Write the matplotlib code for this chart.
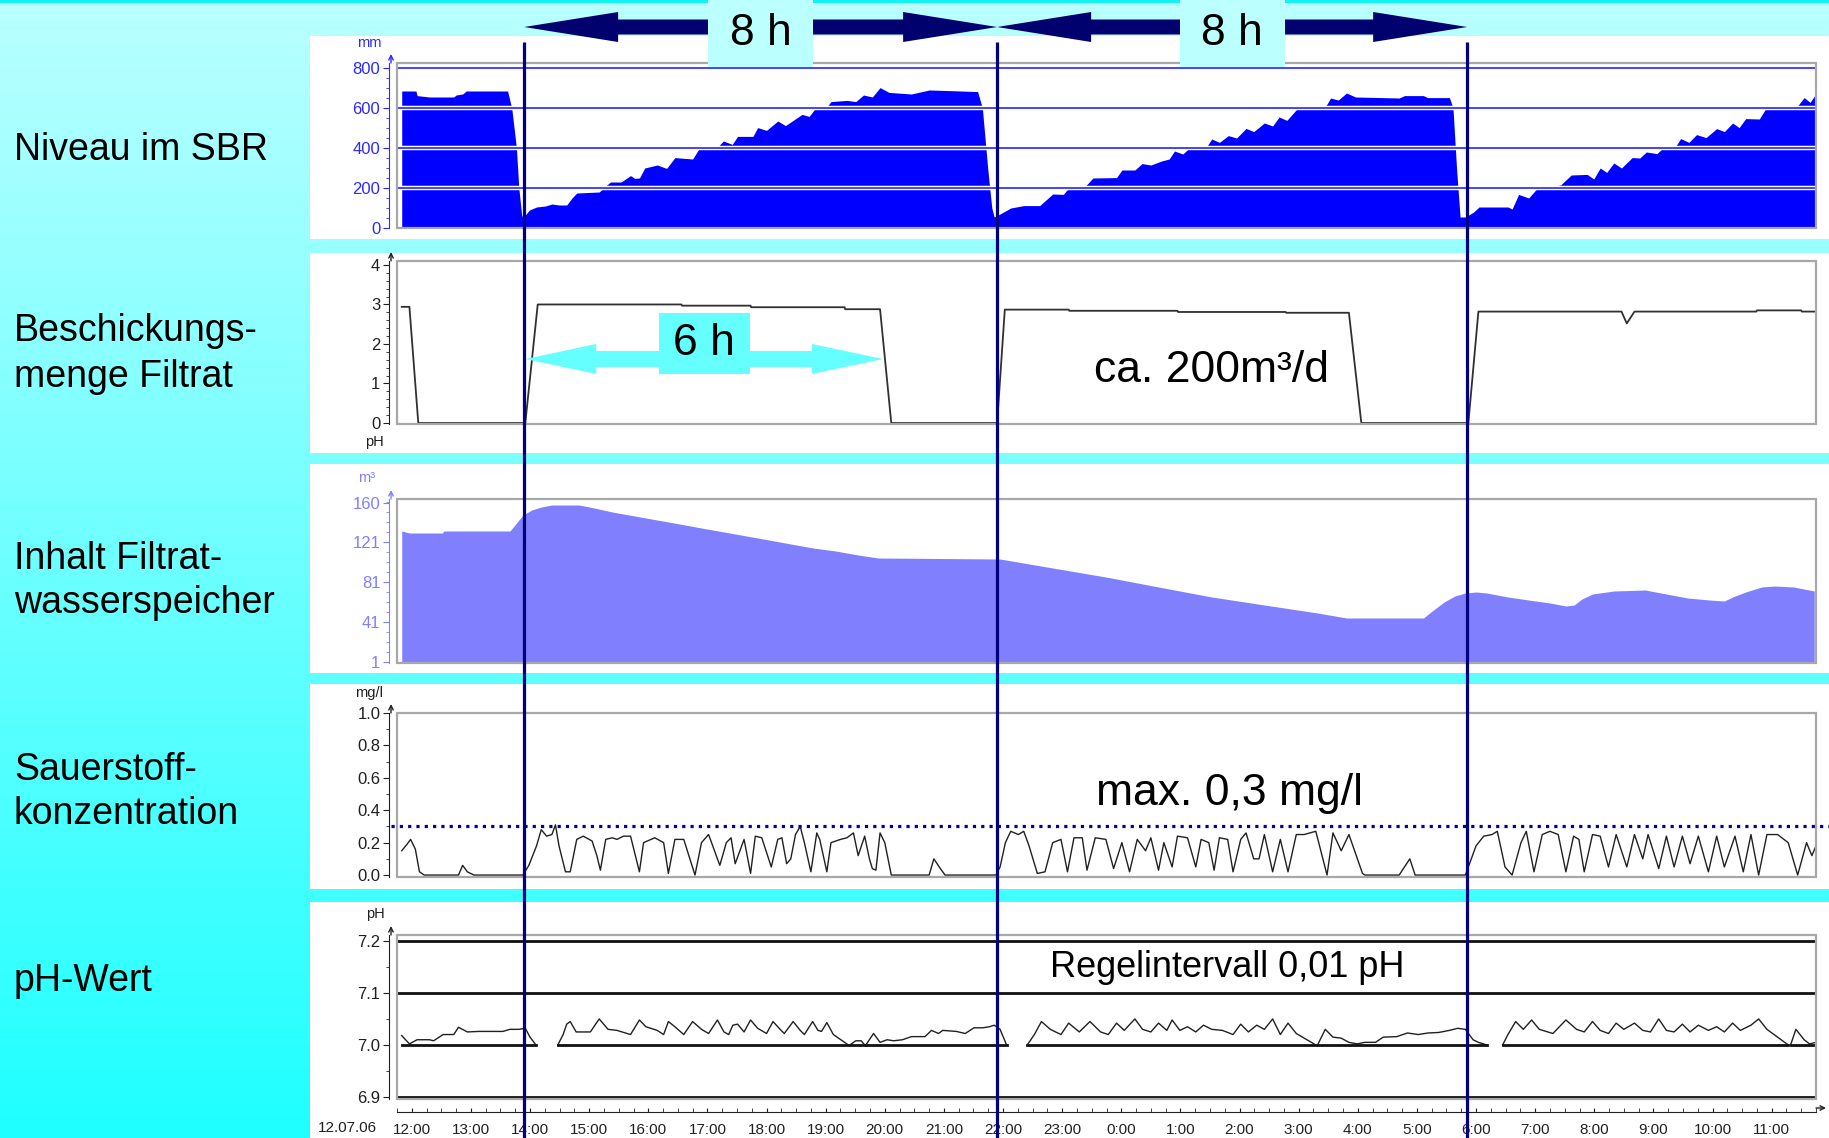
import numpy as np
import matplotlib
matplotlib.use('Agg')
import matplotlib.pyplot as plt
import matplotlib.transforms as mtransforms
import matplotlib.patheffects as pe
from matplotlib.patches import Rectangle
from matplotlib.ticker import AutoMinorLocator, FormatStrFormatter, MultipleLocator

plt.rcParams['font.family'] = ['Liberation Sans', 'DejaVu Sans']

# ---------------------------------------------------------------- data
# time in hours since 12.07.06 00:00
t_start, t_end = 11.75, 35.75
hour_ticks = list(range(12, 36))
hour_labels = ['%d:00' % (h % 24) for h in hour_ticks]
date_label = '12.07.06'

# Niveau im SBR (mm)
level_t = [11.83, 12.07, 12.09, 12.30, 12.71, 12.75, 12.86, 12.92, 13.62, 13.69,
           13.77, 13.81, 13.86, 13.92, 13.99, 14.11, 14.26, 14.37, 14.49, 14.62,
           14.71, 14.79, 15.17, 15.26, 15.36, 15.54, 15.70, 15.77, 15.85, 15.94,
           16.15, 16.31, 16.45, 16.75, 16.87, 17.13, 17.27, 17.42, 17.51, 17.77,
           17.85, 18.00, 18.19, 18.32, 18.60, 18.72, 18.83, 19.00, 19.09, 19.36,
           19.51, 19.64, 19.79, 19.92, 20.07, 20.45, 20.75, 20.98, 21.28, 21.57,
           21.65, 21.74, 21.81, 21.85,
           21.95, 22.13, 22.35, 22.62, 22.84, 23.02, 23.11, 23.38, 23.52, 23.92,
           24.01, 24.23, 24.35, 24.50, 24.68, 24.81, 24.90, 25.04, 25.17, 25.44,
           25.53, 25.66, 25.81, 25.95, 26.11, 26.24, 26.42, 26.56, 26.67, 26.80,
           26.98, 27.32, 27.45, 27.54, 27.67, 27.81, 27.96, 28.70, 28.79, 29.11,
           29.18, 29.55, 29.61, 29.67, 29.73,
           29.82, 29.96, 30.05, 30.54, 30.61, 30.72, 30.89, 31.03, 31.43, 31.61,
           31.88, 31.99, 32.10, 32.21, 32.33, 32.46, 32.64, 32.77, 32.88, 33.06,
           33.19, 33.37, 33.46, 33.60, 33.73, 33.89, 34.07, 34.20, 34.34, 34.45,
           34.56, 34.79, 34.89, 35.14, 35.28, 35.41, 35.55, 35.65, 35.75]
level_v = [685, 685, 662, 655, 655, 665, 670, 685, 685, 600,
           400, 200, 60, 65, 90, 105, 110, 120, 115, 115,
           150, 175, 180, 205, 230, 230, 262, 248, 250, 300,
           315, 298, 352, 345, 402, 392, 435, 418, 458, 458,
           502, 488, 535, 512, 568, 558, 600, 598, 632, 638,
           632, 665, 655, 702, 678, 670, 690, 688, 685, 682,
           600, 300, 100, 55,
           70, 100, 112, 112, 170, 168, 200, 205, 250, 252,
           290, 290, 322, 315, 335, 345, 385, 370, 405, 405,
           445, 428, 462, 450, 498, 482, 525, 510, 555, 538,
           598, 598, 605, 650, 640, 675, 655, 650, 662, 662,
           652, 652, 600, 300, 55,
           55, 80, 105, 105, 95, 168, 150, 197, 215, 265,
           268, 245, 300, 278, 325, 300, 352, 350, 380, 372,
           408, 405, 447, 428, 467, 452, 497, 482, 525, 502,
           547, 545, 592, 600, 612, 600, 652, 628, 672]
level_ticks = [0, 200, 400, 600, 800]

# Beschickungsmenge Filtrat
feed_t = [11.83, 11.96, 12.11, 13.92, 14.13, 16.56, 16.57, 17.73, 17.74, 19.32,
          19.33, 19.92, 20.11, 21.90, 22.03, 23.11, 23.12, 24.95, 24.96, 26.78,
          26.79, 27.85, 28.06, 29.87, 30.04, 32.46, 32.55, 32.68, 34.74, 34.75,
          35.50, 35.51, 35.75]
feed_v = [2.94, 2.94, 0, 0, 3.0, 3.0, 2.97, 2.97, 2.93, 2.93,
          2.88, 2.88, 0, 0, 2.87, 2.87, 2.84, 2.84, 2.81, 2.81,
          2.79, 2.79, 0, 0, 2.82, 2.82, 2.52, 2.82, 2.82, 2.85,
          2.85, 2.82, 2.82]
feed_ticks = [0, 1, 2, 3, 4]

# Inhalt Filtratwasserspeicher (m3)
tank_t = [11.83, 11.96, 12.52, 12.54, 13.66, 13.73, 13.88, 14.03, 14.19, 14.37,
          14.83, 15.09, 15.39, 15.77, 16.15, 16.53, 16.90, 17.28, 17.66, 18.04,
          18.41, 18.79, 19.17, 19.55, 19.89, 21.95, 22.84, 23.74, 24.63, 25.53,
          26.42, 27.32, 27.81, 29.11, 29.28, 29.46, 29.64, 29.82, 30.00, 30.18,
          30.54, 30.89, 31.25, 31.52, 31.66, 31.79, 31.97, 32.33, 32.86, 33.22,
          33.58, 33.94, 34.20, 34.34, 34.56, 34.83, 35.05, 35.37, 35.72]
tank_v = [132, 130, 130, 132, 132, 137, 148, 153, 156, 158,
          158, 155, 151, 147, 143, 139, 135, 131, 127, 123,
          119, 115, 112, 108, 105, 104, 95, 86, 76, 66,
          58, 50, 45, 45, 53, 61, 67, 70, 71, 70,
          66, 63, 60, 57, 58, 64, 69, 72, 73, 69,
          65, 63, 62, 66, 71, 76, 77, 76, 72]
tank_ticks = [1, 41, 81, 121, 160]

# Sauerstoffkonzentration (mg/l)
oxy_t = [11.83, 11.92, 11.98, 12.06, 12.13, 12.21, 12.79, 12.86, 12.94, 13.05,
         13.88, 13.98, 14.11, 14.19, 14.28, 14.37, 14.43, 14.49, 14.60, 14.68,
         14.79, 14.90, 15.05, 15.13, 15.19, 15.28, 15.39, 15.47, 15.58, 15.70,
         15.85, 15.92, 16.11, 16.26, 16.34, 16.45, 16.60, 16.79, 16.90, 17.02,
         17.17, 17.21, 17.32, 17.40, 17.47, 17.62, 17.73, 17.81, 17.92, 18.08,
         18.19, 18.26, 18.34, 18.41, 18.49, 18.57, 18.64, 18.75, 18.85, 18.90,
         19.02, 19.09, 19.25, 19.36, 19.47, 19.55, 19.66, 19.74, 19.79, 19.85,
         19.92, 20.00, 20.11, 20.75, 20.83, 20.94, 21.02, 21.88, 21.95, 22.04,
         22.13, 22.26, 22.35, 22.44, 22.58, 22.71, 22.84, 22.98, 23.09, 23.20,
         23.34, 23.42, 23.56, 23.74, 23.87, 24.01, 24.14, 24.27, 24.41, 24.50,
         24.63, 24.72, 24.86, 24.95, 25.12, 25.26, 25.35, 25.48, 25.57, 25.66,
         25.80, 25.89, 26.02, 26.11, 26.24, 26.33, 26.42, 26.56, 26.69, 26.82,
         26.96, 27.09, 27.29, 27.41, 27.48, 27.58, 27.72, 27.85, 28.08, 28.12,
         28.70, 28.88, 28.97, 29.82, 30.00, 30.13, 30.27, 30.36, 30.49, 30.61,
         30.76, 30.85, 30.98, 31.12, 31.25, 31.39, 31.52, 31.65, 31.74, 31.83,
         31.97, 32.10, 32.24, 32.37, 32.55, 32.68, 32.82, 32.91, 33.09, 33.22,
         33.35, 33.49, 33.62, 33.76, 33.93, 34.07, 34.20, 34.38, 34.52, 34.65,
         34.78, 34.92, 35.10, 35.28, 35.44, 35.59, 35.68, 35.75]
oxy_v = [0.15, 0.19, 0.22, 0.16, 0.02, 0.0, 0.0, 0.06, 0.02, 0.0,
         0.0, 0.06, 0.18, 0.28, 0.24, 0.25, 0.31, 0.18, 0.02, 0.02,
         0.22, 0.24, 0.21, 0.12, 0.03, 0.22, 0.23, 0.22, 0.24, 0.24,
         0.02, 0.20, 0.23, 0.20, 0.01, 0.22, 0.22, 0.0, 0.20, 0.25,
         0.10, 0.06, 0.20, 0.23, 0.07, 0.22, 0.01, 0.24, 0.23, 0.05,
         0.22, 0.23, 0.07, 0.10, 0.25, 0.30, 0.20, 0.02, 0.26, 0.22,
         0.02, 0.20, 0.22, 0.23, 0.26, 0.12, 0.24, 0.10, 0.04, 0.03,
         0.26, 0.20, 0.0, 0.0, 0.10, 0.04, 0.0, 0.0, 0.05, 0.20,
         0.27, 0.25, 0.27, 0.18, 0.01, 0.02, 0.20, 0.22, 0.02, 0.23,
         0.23, 0.03, 0.23, 0.22, 0.04, 0.20, 0.02, 0.22, 0.15, 0.23,
         0.03, 0.20, 0.05, 0.24, 0.23, 0.05, 0.22, 0.20, 0.03, 0.23,
         0.22, 0.02, 0.22, 0.26, 0.10, 0.10, 0.25, 0.02, 0.22, 0.02,
         0.25, 0.25, 0.27, 0.10, 0.0, 0.26, 0.15, 0.25, 0.01, 0.0,
         0.0, 0.10, 0.0, 0.0, 0.18, 0.24, 0.25, 0.27, 0.05, 0.0,
         0.20, 0.27, 0.02, 0.25, 0.27, 0.25, 0.02, 0.24, 0.22, 0.02,
         0.25, 0.24, 0.05, 0.25, 0.05, 0.25, 0.10, 0.25, 0.04, 0.24,
         0.05, 0.24, 0.07, 0.24, 0.02, 0.24, 0.05, 0.24, 0.02, 0.25,
         0.0, 0.25, 0.25, 0.20, 0.0, 0.20, 0.12, 0.18]
oxy_ticks = [0.0, 0.2, 0.4, 0.6, 0.8, 1.0]
oxy_limit = 0.3

# pH-Wert, recorded in separate pieces
ph_segments = [
    ([11.83, 11.96, 12.09, 12.30, 12.37, 12.53, 12.71, 12.79, 12.94, 13.13,
      13.54, 13.66, 13.81, 13.92, 14.00, 14.10],
     [7.018, 7.002, 7.01, 7.01, 7.008, 7.02, 7.02, 7.034, 7.025, 7.026,
      7.026, 7.03, 7.03, 7.032, 7.015, 7.0]),
    ([14.47, 14.56, 14.62, 14.68, 14.78, 15.02, 15.17, 15.32, 15.47, 15.70,
      15.85, 15.96, 16.15, 16.26, 16.34, 16.45, 16.60, 16.75, 16.90, 17.02,
      17.17, 17.28, 17.36, 17.43, 17.51, 17.62, 17.73, 17.85, 18.00, 18.11,
      18.23, 18.30, 18.45, 18.57, 18.64, 18.78, 18.87, 18.93, 19.02, 19.13,
      19.32, 19.38],
     [7.0, 7.02, 7.04, 7.045, 7.025, 7.025, 7.05, 7.03, 7.028, 7.02,
      7.048, 7.035, 7.028, 7.02, 7.045, 7.035, 7.02, 7.045, 7.03, 7.022,
      7.048, 7.025, 7.02, 7.038, 7.04, 7.025, 7.048, 7.032, 7.022, 7.045,
      7.03, 7.022, 7.045, 7.028, 7.02, 7.045, 7.028, 7.026, 7.043, 7.02,
      7.005, 7.0]),
    ([19.41, 19.51, 19.60, 19.66],
     [7.0, 7.008, 7.008, 7.0]),
    ([19.68, 19.81, 19.92, 20.04, 20.15, 20.30, 20.45, 20.68, 20.79, 20.91,
      20.98, 21.21, 21.36, 21.51, 21.66, 21.77, 21.85, 21.95, 22.06],
     [7.0, 7.022, 7.005, 7.01, 7.008, 7.01, 7.016, 7.016, 7.028, 7.022,
      7.028, 7.026, 7.022, 7.033, 7.033, 7.035, 7.038, 7.03, 7.0]),
    ([22.41, 22.53, 22.65, 22.80, 22.98, 23.11, 23.29, 23.47, 23.65, 23.78,
      23.92, 24.05, 24.23, 24.36, 24.50, 24.63, 24.77, 24.86, 24.99, 25.12,
      25.26, 25.39, 25.53, 25.71, 25.89, 26.02, 26.15, 26.29, 26.42, 26.56,
      26.69, 26.82, 26.96, 27.14, 27.29],
     [7.0, 7.02, 7.045, 7.03, 7.02, 7.042, 7.025, 7.045, 7.025, 7.02,
      7.042, 7.028, 7.05, 7.03, 7.025, 7.042, 7.028, 7.048, 7.028, 7.035,
      7.025, 7.038, 7.03, 7.028, 7.02, 7.04, 7.025, 7.038, 7.03, 7.05,
      7.02, 7.042, 7.022, 7.01, 7.0]),
    ([27.32, 27.45, 27.58, 27.72, 27.85, 27.99, 28.12, 28.30, 28.43, 28.66,
      28.84, 29.02, 29.19, 29.37, 29.55, 29.69, 29.82, 29.95, 30.04, 30.18],
     [7.0, 7.03, 7.015, 7.013, 7.005, 7.002, 7.005, 7.005, 7.015, 7.016,
      7.023, 7.02, 7.023, 7.024, 7.028, 7.032, 7.03, 7.01, 7.005, 7.0]),
    ([30.45, 30.54, 30.67, 30.80, 30.94, 31.07, 31.30, 31.52, 31.70, 31.83,
      31.97, 32.10, 32.24, 32.37, 32.50, 32.68, 32.82, 32.95, 33.09, 33.22,
      33.35, 33.49, 33.62, 33.76, 33.93, 34.07, 34.20, 34.34, 34.47, 34.65,
      34.78, 34.92, 35.10, 35.28],
     [7.0, 7.02, 7.045, 7.03, 7.048, 7.03, 7.022, 7.048, 7.03, 7.025,
      7.045, 7.028, 7.022, 7.042, 7.03, 7.042, 7.028, 7.025, 7.05, 7.028,
      7.025, 7.04, 7.025, 7.038, 7.028, 7.035, 7.025, 7.042, 7.028, 7.038,
      7.05, 7.03, 7.015, 7.0]),
    ([35.32, 35.41, 35.55, 35.64, 35.75],
     [7.0, 7.03, 7.01, 7.002, 7.005]),
]
ph_ticks = [6.9, 7.0, 7.1, 7.2]
ph_grid = [6.9, 7.1, 7.2]

# cycle marks (start of filling) and feed duration
cycle_marks = [13.9, 21.9, 29.85]
feed_start, feed_end = 13.92, 19.97

row_labels = [['Niveau im SBR'], ['Beschickungs-', 'menge Filtrat'],
              ['Inhalt Filtrat-', 'wasserspeicher'],
              ['Sauerstoff-', 'konzentration'], ['pH-Wert']]

# ---------------------------------------------------------------- layout
W, H, DPI = 1829, 1138, 100
PX_L, PX_R = 397, 1816
fig = plt.figure(figsize=(W / DPI, H / DPI), dpi=DPI)

# background gradient + white panels
ax_bg = fig.add_axes([0, 0, 1, 1], zorder=-1)
frac = np.linspace(0, 1, 256)[:, None, None]
top_col = np.array([0.73, 1.0, 1.0])
bot_col = np.array([0.12, 1.0, 1.0])
ax_bg.imshow(top_col + (bot_col - top_col) * frac, extent=[0, W, H, 0],
             aspect='auto', interpolation='bilinear')
ax_bg.add_patch(Rectangle((0, 0), W, 3, fc='#10f4f4', ec='none'))
for y0, y1 in [(36, 239), (253, 453), (464, 673), (684, 889), (902, 1140)]:
    ax_bg.add_patch(Rectangle((310, y0), W - 310, y1 - y0, fc='white',
                              ec='none'))
ax_bg.set_xlim(0, W)
ax_bg.set_ylim(H, 0)
ax_bg.axis('off')


def add_panel(top, bottom):
    return fig.add_axes([PX_L / W, 1 - bottom / H, (PX_R - PX_L) / W,
                         (bottom - top) / H])


def style_panel(ax, color, ticks, fmt, nminor):
    for s in ['top', 'right', 'bottom']:
        ax.spines[s].set_visible(False)
    ax.spines['left'].set_position(('outward', 6))
    ax.spines['left'].set_color(color)
    ax.add_patch(Rectangle((0, 0), 1, 1, transform=ax.transAxes, fill=False,
                           ec='#a8a8a8', lw=1.6, clip_on=False, zorder=6))
    ax.set_yticks(ticks)
    ax.yaxis.set_major_formatter(FormatStrFormatter(fmt))
    ax.yaxis.set_minor_locator(AutoMinorLocator(nminor))
    ax.tick_params(axis='y', which='major', colors=color, labelsize=12,
                   length=4, pad=2)
    ax.tick_params(axis='y', which='minor', colors=color, length=2)
    ax.set_xlim(t_start, t_end)
    ax.set_xticks([])
    base = ax.transAxes + mtransforms.ScaledTranslation(-6 / DPI, 0,
                                                        fig.dpi_scale_trans)
    tip = base + mtransforms.ScaledTranslation(0, 9 / DPI, fig.dpi_scale_trans)
    ax.annotate('', xy=(0, 1), xycoords=tip, xytext=(0, 1), textcoords=base,
                arrowprops=dict(arrowstyle='->', color=color, lw=1,
                                shrinkA=0, shrinkB=0, mutation_scale=8))


# panel 1: level
ax1 = add_panel(63, 228)
ax1.fill_between(level_t, level_v, 0, color='#0000ff', lw=0)
for g in level_ticks[1:]:
    ax1.axhline(g, color='#3535ff', lw=1.3, zorder=3,
                path_effects=[pe.withStroke(linewidth=3.2, foreground='white')])
ax1.set_ylim(0, 825)
style_panel(ax1, '#2a2aff', level_ticks, '%d', 4)

# panel 2: feed
ax2 = add_panel(261, 424)
ax2.plot(feed_t, feed_v, color='#303030', lw=1.3)
ax2.set_ylim(-0.025, 4.1)
style_panel(ax2, '#202020', feed_ticks, '%d', 5)

# panel 3: tank volume
ax3 = add_panel(499, 663)
ax3.fill_between(tank_t, tank_v, 0, color='#8080ff', lw=0)
ax3.set_ylim(0, 164)
style_panel(ax3, '#8080ff', tank_ticks, '%d', 4)

# panel 4: oxygen
ax4 = add_panel(713, 877)
ax4.plot(oxy_t, oxy_v, color='#202020', lw=1)
ax4.axhline(oxy_limit, xmin=-0.004, xmax=1.01, color='#00009a', lw=2.3,
            ls=(0, (1, 1.6)), clip_on=False, zorder=4)
ax4.set_ylim(-0.012, 1.0)
style_panel(ax4, '#202020', oxy_ticks, '%.1f', 2)

# panel 5: pH
ax5 = add_panel(935, 1099)
for g in ph_grid:
    ax5.axhline(g, color='#101010', lw=2)
for seg_t, seg_v in ph_segments:
    ax5.plot(seg_t, seg_v, color='#202020', lw=1)
    ax5.plot([seg_t[0], seg_t[-1]], [7.0, 7.0], color='#101010', lw=2)
ax5.set_ylim(6.896, 7.2115)
style_panel(ax5, '#202020', ph_ticks, '%.1f', 2)
ax5.spines['bottom'].set_visible(True)
ax5.spines['bottom'].set_position(('outward', 9))
ax5.spines['bottom'].set_color('#202020')
ax5.set_xticks(hour_ticks)
ax5.set_xticklabels(hour_labels)
ax5.xaxis.set_minor_locator(MultipleLocator(0.25))
ax5.tick_params(axis='x', which='both', direction='in', length=3,
                colors='#202020', labelsize=11, pad=8)
xb = ax5.transAxes + mtransforms.ScaledTranslation(0, -9 / DPI,
                                                   fig.dpi_scale_trans)
xe = xb + mtransforms.ScaledTranslation(10 / DPI, 0, fig.dpi_scale_trans)
ax5.annotate('', xy=(1, 0), xycoords=xe, xytext=(1, 0), textcoords=xb,
             arrowprops=dict(arrowstyle='->', color='#202020', lw=1,
                             shrinkA=0, shrinkB=0, mutation_scale=8))

# ---------------------------------------------------------------- overlay
ax_px = fig.add_axes([0, 0, 1, 1], zorder=5)
ax_px.patch.set_visible(False)
ax_px.set_autoscale_on(False)
ax_px.set_xlim(0, W)
ax_px.set_ylim(H, 0)
ax_px.axis('off')
blend = mtransforms.blended_transform_factory(ax5.transData, ax_px.transData)
hour_px = (PX_R - PX_L) / (t_end - t_start)


def double_arrow(t0, t1, yc, head_len, head_hw, shaft_hw, color):
    hl = head_len / hour_px
    xs = [t0, t0 + hl, t0 + hl, t1 - hl, t1 - hl, t1, t1 - hl, t1 - hl,
          t0 + hl, t0 + hl]
    ys = [yc, yc - head_hw, yc - shaft_hw, yc - shaft_hw, yc - head_hw, yc,
          yc + head_hw, yc + shaft_hw, yc + shaft_hw, yc + head_hw]
    ax_px.fill(xs, ys, color=color, lw=0, transform=blend, zorder=2)


def label_box(tc, y0, y1, width, text, color, ty, size):
    w = width / hour_px
    ax_px.add_patch(Rectangle((tc - w / 2, y0), w, y1 - y0, fc=color,
                              ec='none', transform=blend, zorder=3))
    ax_px.text(tc, ty, text, ha='center', va='center', fontsize=size,
               color='black', transform=blend, zorder=4)


# 8 h arrows at the top
for a, b in zip(cycle_marks[:-1], cycle_marks[1:]):
    double_arrow(a, b, 27, 94, 15, 7.5, '#00006e')
    label_box((a + b) / 2, 0, 67, 105, '8 h', '#bbffff', 33, 32)

# 6 h feed arrow
double_arrow(feed_start, feed_end, 359, 71, 15, 8, '#66ffff')
label_box((feed_start + feed_end) / 2, 313, 374, 91, '6 h', '#66ffff', 343, 32)

# cycle marker lines
ax_px.vlines(cycle_marks, 42, H, colors='#000080', lw=2.3, transform=blend,
             zorder=5)

# annotations in the panels
ax_px.text(1211, 370, 'ca. 200m³/d', ha='center', va='center', fontsize=32)
ax_px.text(1230, 793, 'max. 0,3 mg/l', ha='center', va='center', fontsize=32)
ax_px.text(1227, 967, 'Regelintervall 0,01 pH', ha='center', va='center',
           fontsize=26)

# unit labels
units = [('mm', 369, 43, '#2a2aff'), ('pH', 374, 442, '#202020'),
         ('m³', 367, 478, '#8080ff'), ('mg/l', 369, 693, '#202020'),
         ('pH', 375, 914, '#202020')]
for s, x, y, c in units:
    ax_px.text(x, y, s, ha='center', va='center', fontsize=10.5, color=c)
ax_px.text(347, 1128, date_label, ha='center', va='center', fontsize=11,
           color='#202020')

# row labels on the left
label_y = [[150], [331, 377], [559, 603], [770, 814], [981]]
for lines, ys in zip(row_labels, label_y):
    for s, y in zip(lines, ys):
        ax_px.text(14, y, s, ha='left', va='center', fontsize=27,
                   color='black')

fig.savefig('out.png', dpi=DPI)
